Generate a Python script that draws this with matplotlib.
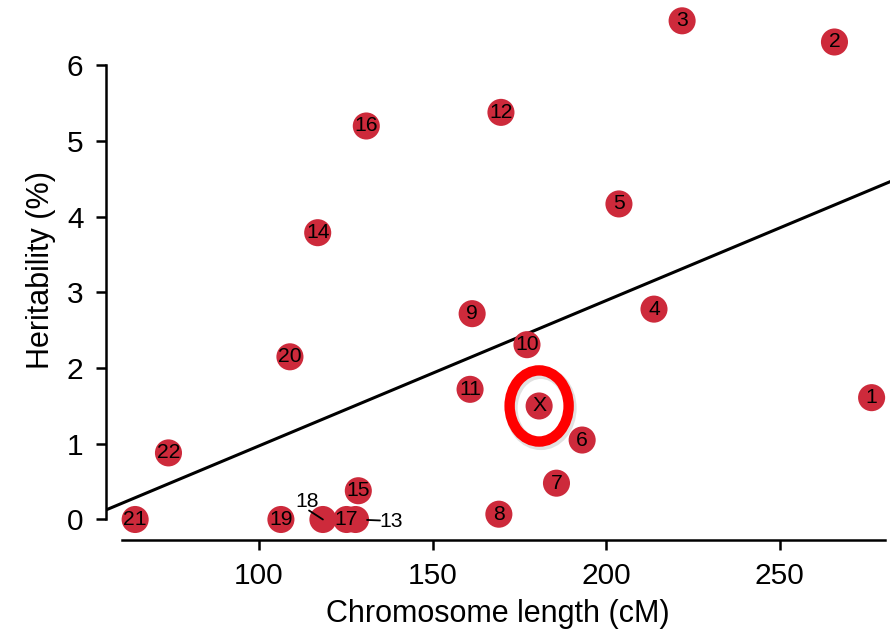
import matplotlib
matplotlib.use("Agg")
import matplotlib.pyplot as plt
from matplotlib.patches import Ellipse

plt.rcParams['font.family'] = ['Liberation Sans', 'DejaVu Sans']

# Per-chromosome data
chromosomes = ["1", "2", "3", "4", "5", "6", "7", "8", "9", "10", "11",
               "12", "13", "14", "15", "16", "17", "18", "19", "20", "21",
               "22", "X"]
length_cm = [276.5, 265.8, 221.9, 213.8, 203.7, 193.1, 185.7, 169.1, 161.4,
             177.2, 160.8, 169.7, 127.8, 116.9, 128.6, 130.9, 125.2, 118.4,
             106.3, 108.9, 64.3, 73.9, 180.7]
heritability = [1.61, 6.31, 6.59, 2.78, 4.17, 1.05, 0.48, 0.07, 2.72,
                2.31, 1.72, 5.38, 0.0, 3.79, 0.38, 5.20, 0.0, 0.0,
                0.0, 2.15, 0.0, 0.88, 1.50]

# Regression line (heritability vs length)
fit_intercept = -0.947
fit_slope = 0.0192

x_ticks = [100, 150, 200, 250]
y_ticks = [0, 1, 2, 3, 4, 5, 6]

# Labels placed beside their point (offsets in points):
# text offset, leader-line start offset, trim at the point end
outside_labels = {
    "18": ((-11.5, 13.0), (-10.0, 6.5), 0.0),
    "13": ((25.5, -1.5), (17.6, -0.7), 8.3),
}

point_color = "#CD2A3B"
highlight = "X"
label_size = 15.2

fig = plt.figure(figsize=(8.9, 6.36), dpi=100)
ax = fig.add_axes([106 / 890, 96 / 636, 784 / 890, 540 / 636])
ax.set_xlim(55.9, 281.8)
ax.set_ylim(-0.271, 6.865)

# regression line across the full width
xs = [ax.get_xlim()[0], ax.get_xlim()[1]]
ax.plot(xs, [fit_intercept + fit_slope * v for v in xs], color="black",
        lw=2.2, zorder=2)

ax.scatter(length_cm, heritability, s=380, color=point_color,
           edgecolors="none", zorder=3, clip_on=False)

for name, x, y in zip(chromosomes, length_cm, heritability):
    if name in outside_labels:
        (tx, ty), (sx, sy), trim = outside_labels[name]
        ax.annotate(name, xy=(x, y), xytext=(tx, ty),
                    textcoords="offset points", ha="center", va="center",
                    fontsize=label_size, color="black", zorder=5)
        ax.annotate("", xy=(x, y), xytext=(sx, sy),
                    textcoords="offset points", zorder=5,
                    arrowprops=dict(arrowstyle="-", color="black", lw=1.3,
                                    shrinkA=0, shrinkB=trim, patchA=None))
    else:
        ax.text(x, y, name, ha="center", va="center", fontsize=label_size,
                color="black", zorder=5)

# ring around the highlighted chromosome
hx = length_cm[chromosomes.index(highlight)]
hy = heritability[chromosomes.index(highlight)]
shadow = Ellipse((hx + 0.5, hy - 0.03), width=17.0, height=0.94, fill=False,
                 ec="#777777", lw=9, alpha=0.22, zorder=5)
ax.add_patch(shadow)
ring = Ellipse((hx, hy), width=17.0, height=0.94, fill=False,
               ec="#FF0000", lw=7.5, zorder=6)
ax.add_patch(ring)

for side in ("top", "right"):
    ax.spines[side].set_visible(False)
ax.spines["left"].set_bounds(0, 6)
ax.spines["bottom"].set_bounds(60.5, 280.4)
for side in ("left", "bottom"):
    ax.spines[side].set_linewidth(1.8)

ax.set_xticks(x_ticks)
ax.set_yticks(y_ticks)
ax.tick_params(axis="both", direction="out", length=7.2, width=1.8,
               labelsize=21.5)
ax.tick_params(axis="y", pad=9)
ax.tick_params(axis="x", pad=9)

ax.set_xlabel("Chromosome length (cM)", fontsize=22, labelpad=6)
ax.set_ylabel("Heritability (%)", fontsize=22, labelpad=8)

fig.savefig("out.png", dpi=100)
